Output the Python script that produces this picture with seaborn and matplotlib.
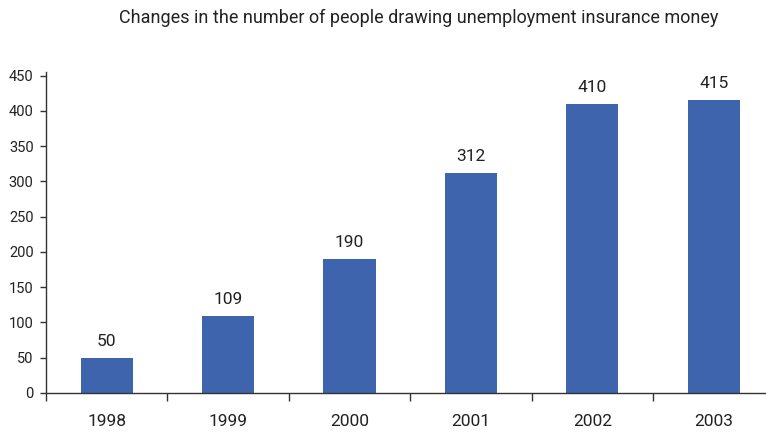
import matplotlib
matplotlib.use("Agg")
import matplotlib.pyplot as plt
import seaborn as sns
import pandas as pd
import numpy as np

years = ["1998", "1999", "2000", "2001", "2002", "2003"]
values = [50, 109, 190, 312, 410, 415]
yticks = [0, 50, 100, 150, 200, 250, 300, 350, 400, 450]
title = "Changes in the number of people drawing unemployment insurance money"

sns.set_theme(style="white")
plt.rcParams['font.family'] = ['Roboto', 'DejaVu Sans']

df = pd.DataFrame({"year": years, "value": values})

fig = plt.figure(figsize=(7.66, 4.32), dpi=100)
ax = fig.add_axes([46/766, 39/432, 1 - 46/766, (393-72)/432])

sns.barplot(data=df, x="year", y="value", color="#3F64AE", saturation=1,
            width=0.43, ax=ax, linewidth=0)

for i, v in enumerate(values):
    ax.annotate(str(v), (i, v), xytext=(0, 6.5), textcoords="offset points",
                ha="center", va="bottom", fontsize=12.5, color="#222222")

ax.set_xlim(-0.5, 5.43)
ax.set_ylim(0, 455)
ax.set_yticks(yticks)
ax.set_yticklabels([str(t) for t in yticks], fontsize=10.5, color="#222222")
ax.set_xlabel("")
ax.set_ylabel("")
for s in ["top", "right"]:
    ax.spines[s].set_visible(False)
for s in ["left", "bottom"]:
    ax.spines[s].set_color("#333333")
    ax.spines[s].set_linewidth(1.0)

ax.tick_params(axis="y", which="major", direction="out", length=4, width=1,
               color="#333333", pad=5, left=True)
ax.set_xticks(np.arange(-0.5, 5.5, 1.0), minor=True)
ax.tick_params(axis="x", which="minor", direction="out", length=6, width=1,
               color="#333333", bottom=True)
ax.tick_params(axis="x", which="major", length=0, pad=15, labelsize=12.5,
               labelcolor="#222222")

fig.text(0.547, 0.958, title, ha="center", va="center", fontsize=13,
         color="#222222")

fig.savefig("out.png", dpi=100)
